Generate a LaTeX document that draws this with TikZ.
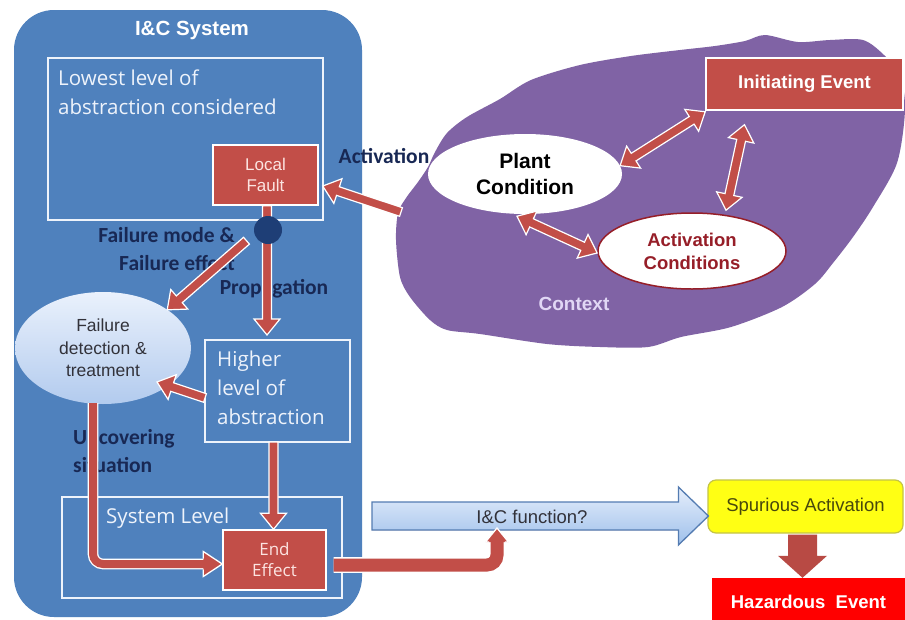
\documentclass[tikz,border=0pt]{standalone}
\usepackage{fontspec}
\setmainfont{Liberation Sans}
\newfontfamily\carl{Carlito}
\newfontfamily\opsans{Open Sans}
\usetikzlibrary{calc,shapes.geometric}

\definecolor{icblue}{RGB}{79,129,189}
\definecolor{boxred}{RGB}{194,78,72}
\definecolor{navy}{RGB}{24,40,84}
\definecolor{knot}{RGB}{30,62,118}
\definecolor{ctxpurple}{RGB}{128,99,165}
\definecolor{ctxtext}{RGB}{225,215,245}
\definecolor{acred}{RGB}{150,30,40}
\definecolor{paleblue}{RGB}{234,241,252}
\definecolor{midblue}{RGB}{178,203,238}
\definecolor{arrowtop}{RGB}{230,238,251}
\definecolor{arrowbot}{RGB}{158,192,235}
\definecolor{arrowedge}{RGB}{84,124,178}
\definecolor{spuryellow}{RGB}{255,255,20}
\definecolor{spuredge}{RGB}{196,196,70}
\definecolor{spurtext}{RGB}{72,72,12}
\definecolor{hazred}{RGB}{255,0,0}
\definecolor{softwhite}{RGB}{238,243,251}
\definecolor{pinkwhite}{RGB}{252,228,225}
\definecolor{greytext}{RGB}{50,50,58}

% block arrow dimensions: shaft half width, head half width, head length
\def\aw{4.5pt}\def\ah{13pt}\def\al{16pt}

% start point, angle and length of an arrow between two points
\newcommand\arrowgeom[2]{%
  \path let \p1=#1, \p2=#2,
    \n1={atan2(\y2-\y1,\x2-\x1)}, \n2={veclen(\x2-\x1,\y2-\y1)}
  in \pgfextra{%
    \pgfmathparse{\n1}\xdef\ArrAng{\pgfmathresult}%
    \pgfmathparse{\n2}\xdef\ArrLen{\pgfmathresult}%
    \xdef\ArrX{\x1}\xdef\ArrY{\y1}};%
}
% single-headed block arrow
\newcommand\blockarrow[3][]{%
  \arrowgeom{#2}{#3}%
  \path[redarrow,#1,shift={(\ArrX,\ArrY)},rotate=\ArrAng]
    (0pt,-\aw) -- ({\ArrLen pt-\al},-\aw) -- ({\ArrLen pt-\al},-\ah) -- (\ArrLen pt,0pt)
    -- ({\ArrLen pt-\al},\ah) -- ({\ArrLen pt-\al},\aw) -- (0pt,\aw) -- cycle;}
% double-headed block arrow
\newcommand\twowayarrow[3][]{%
  \arrowgeom{#2}{#3}%
  \path[redarrow,#1,shift={(\ArrX,\ArrY)},rotate=\ArrAng]
    (0pt,0pt) -- (\al,\ah) -- (\al,\aw) -- ({\ArrLen pt-\al},\aw) -- ({\ArrLen pt-\al},\ah)
    -- (\ArrLen pt,0pt) -- ({\ArrLen pt-\al},-\ah) -- ({\ArrLen pt-\al},-\aw)
    -- (\al,-\aw) -- (\al,-\ah) -- cycle;}
% head of an elbow connector
\newcommand\arrowtip[2]{%
  \arrowgeom{#1}{#2}%
  \fill[boxred,shift={(\ArrX,\ArrY)},rotate=\ArrAng]
    (0pt,-\ah) -- (\ArrLen pt,0pt) -- (0pt,\ah) -- cycle;
  \draw[white,line width=1.3pt,line join=miter,shift={(\ArrX,\ArrY)},rotate=\ArrAng]
    (0pt,-\aw) -- (0pt,-\ah) -- (\ArrLen pt,0pt) -- (0pt,\ah) -- (0pt,\aw);}

\begin{document}
\begin{tikzpicture}[x=1pt,y=-1pt,
  redarrow/.style={fill=boxred,draw=white,line width=1.2pt,line join=miter},
  elbow/.style={draw=white,double=boxred,double distance=8pt,line width=1.3pt,rounded corners=10pt},
  frame/.style={draw=softwhite,line width=1.6pt},
  paneltext/.style={text=softwhite,font=\opsans\fontsize{20.5}{29}\selectfont,align=left,inner sep=0pt},
  navylab/.style={text=navy,font=\carl\bfseries\fontsize{21.5}{28}\selectfont,inner sep=0pt},
  faultbox/.style={rectangle,fill=boxred,draw=white,line width=1.4pt,text=pinkwhite,align=center,inner sep=0pt},
  ctxfont/.style={font=\bfseries\fontsize{19}{23}\selectfont}]
\fill[white] (0,0) rectangle (905,619);
\useasboundingbox (0,0) rectangle (905,619);

% ---------- I&C system panel ----------
\fill[icblue,rounded corners=40pt] (14,10) rectangle (362,617);
\node[text=white,font=\bfseries\fontsize{20.5}{24}\selectfont] (ictitle) at (192,30) {I\&C System};

\draw[frame] (48,58) rectangle (323,220);
\node[paneltext,anchor=north west] (lowtxt) at (58,70) {Lowest level of\\abstraction considered};

\node[faultbox,minimum width=105,minimum height=60,
      font=\fontsize{17}{21}\selectfont] (lf) at (265.5,175) {Local\\Fault};

\node[ellipse,top color=paleblue,bottom color=midblue,minimum width=176,minimum height=112,
      inner sep=0pt,text=greytext,align=center,font=\fontsize{17.5}{22.5}\selectfont]
      (fdt) at (103,348) {Failure\\detection \&\\treatment};

\draw[frame] (205,340) rectangle (350,442);
\node[paneltext,anchor=north west] (hltxt) at (217,351) {Higher\\level of\\abstraction};
\coordinate (hl) at (277.5,391);

\draw[frame] (62,497) rectangle (342,598);
\node[paneltext,anchor=north west] (systxt) at (106,508) {System Level};

\node[faultbox,minimum width=103,minimum height=60,
      font=\opsans\fontsize{17}{21}\selectfont] (ee) at (274.5,560) {End\\Effect};

% ---------- context ----------
\fill[ctxpurple] plot[smooth cycle,tension=0.5] coordinates {
  (398,213) (406,198) (418,182) (428,167) (435,152) (447,133) (467,117) (500,99)
  (531,80) (580,65) (631,56) (680,50) (715,46) (745,41) (765,35) (798,42) (830,40)
  (863,40) (884,55) (900,75) (905,110) (897,163) (873,207) (853,237) (833,263)
  (815,284) (782,307) (731,327) (681,337) (648,347) (600,347) (547,344) (480,334)
  (447,330) (430,320) (410,297) (400,277) (396,240)};
\coordinate (ctxedge) at (401,212);

\node[ellipse,fill=white,minimum width=194,minimum height=80,inner sep=0pt,align=center,
      font=\bfseries\fontsize{21}{26}\selectfont] (pc) at (525,174) {Plant\\Condition};
\node[ellipse,fill=white,draw=acred,line width=1.5pt,minimum width=188,minimum height=76,
      inner sep=0pt,align=center,text=acred,font=\bfseries\fontsize{18.5}{23}\selectfont]
      (ac) at (692,251) {Activation\\Conditions};
\node[faultbox,minimum width=197,minimum height=52,text=white,
      font=\bfseries\fontsize{18.5}{22}\selectfont] (ie) at (804.5,84) {Initiating Event};
\node[ctxfont,text=ctxtext] (ctx) at (574,304) {Context};

% labels
\node[navylab] (lblact) at (384,156) {Activation};
\node[navylab,anchor=east,align=right] (lblfm) at (235,249) {Failure mode \&\\Failure effect};
\node[navylab] (lblprop) at (274,289) {Propagation};
\node[navylab,anchor=west,align=left] (lblunc) at (73,451) {Uncovering\\situation};

% ---------- outcome ----------
\node[rectangle,rounded corners=8pt,fill=spuryellow,draw=spuredge,line width=1.2pt,
      minimum width=195,minimum height=53,text=spurtext,
      font=\fontsize{18.5}{22}\selectfont] (spur) at (805.5,506.5) {Spurious Activation};
\node[rectangle,fill=hazred,minimum width=193,minimum height=47,text=white,
      font=\bfseries\fontsize{18.5}{22}\selectfont] (haz) at (808.5,601.5) {Hazardous\ \ Event};

% ---------- connectors ----------
\blockarrow{(ctxedge)}{($(lf.east)+(4,11)$)}
\blockarrow{($(lf.south)+(1.5,0)$)}{($(hl)+(-10.5,-56)$)}
\blockarrow{($(lf.south)+(-19,35)$)}{($(fdt.center)+(64,-38)$)}
\blockarrow{($(hl)+(-72.5,7)$)}{($(fdt.center)+(54,34)$)}
\blockarrow{($(hl)+(-4,51)$)}{($(ee.north)+(-1,0)$)}

\twowayarrow{(pc.5)}{($(ie.south west)+(0,1)$)}
\twowayarrow{($(ie.south)+(-60,14)$)}{($(ac.north)+(34,-2)$)}
\twowayarrow{($(pc.south)+(-8,2)$)}{($(ac.west)+(0,2)$)}

% uncovering path
\draw[elbow] ($(fdt.south)+(-10,-1)$) |- ($(ee.west)+(-18,4)$);
{\def\aw{5.3pt}\def\ah{12.5pt}
 \arrowtip{($(ee.west)+(-19,4)$)}{($(ee.west)+(0,4)$)}}

% I&C function arrow
\coordinate (icstart) at (372,516);
{\def\aw{14pt}\def\ah{29pt}\def\al{30pt}
 \blockarrow[top color=arrowtop,bottom color=arrowbot,draw=arrowedge,line width=1.3pt]
   {(icstart)}{($(spur.west)+(1,9.5)$)}}
\node[font=\fontsize{18.5}{22}\selectfont,text=greytext] (icf) at (532,517) {I\&C function?};

% end effect to I&C function
\coordinate (icin) at (497,528);
\draw[elbow,double distance=13pt] ($(ee.east)+(7,5)$) -| ($(icin)+(0,13)$);
{\def\aw{7.8pt}\def\ah{11.5pt}
 \arrowtip{($(icin)+(0,14)$)}{(icin)}}

% spurious activation to hazardous event
{\def\aw{14.5pt}\def\ah{24.5pt}\def\al{22pt}
 \blockarrow[draw=none,fill=boxred!95!black]{($(spur.south)+(-3,1)$)}{($(haz.north)+(-6,0)$)}}

% node where the fault branches
\node[circle,fill=knot,minimum size=28,inner sep=0pt] (knotpt) at (268,230) {};
\end{tikzpicture}
\end{document}
